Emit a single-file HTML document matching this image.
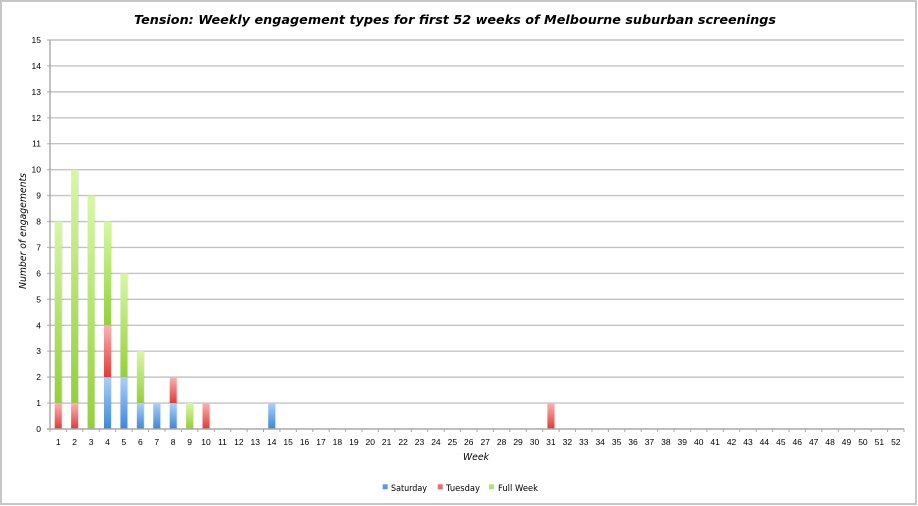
<!DOCTYPE html>
<html><head><meta charset="utf-8"><style>
html,body{margin:0;padding:0;background:#fff;}
svg{display:block;}
</style></head><body>
<svg width="918" height="506" viewBox="0 0 918 506" xmlns="http://www.w3.org/2000/svg">
<defs>
<linearGradient id="gB" x1="0" y1="0" x2="0" y2="1"><stop offset="0" stop-color="#acd0fa"/><stop offset="1" stop-color="#3d87d6"/></linearGradient>
<linearGradient id="gR" x1="0" y1="0" x2="0" y2="1"><stop offset="0" stop-color="#f9b4b2"/><stop offset="1" stop-color="#e23a38"/></linearGradient>
<linearGradient id="gG" x1="0" y1="0" x2="0" y2="1"><stop offset="0" stop-color="#d8f7a4"/><stop offset="1" stop-color="#95cf3c"/></linearGradient>
</defs>
<rect x="0" y="0" width="918" height="506" fill="#fff"/>
<rect x="1" y="1" width="915" height="503" fill="none" stroke="#c6c6c6" stroke-width="2"/>

<text x="455" y="24" text-anchor="middle" font-family="'DejaVu Sans',Verdana,sans-serif" font-weight="bold" font-style="italic" font-size="12.5" textLength="642" lengthAdjust="spacingAndGlyphs" fill="#000">Tension: Weekly engagement types for first 52 weeks of Melbourne suburban screenings</text>

<g stroke="#c4c4c4" stroke-width="1.4">
<line x1="47" y1="40" x2="904" y2="40"/>
<line x1="47" y1="65.93" x2="904" y2="65.93"/>
<line x1="47" y1="91.87" x2="904" y2="91.87"/>
<line x1="47" y1="117.8" x2="904" y2="117.8"/>
<line x1="47" y1="143.73" x2="904" y2="143.73"/>
<line x1="47" y1="169.67" x2="904" y2="169.67"/>
<line x1="47" y1="195.6" x2="904" y2="195.6"/>
<line x1="47" y1="221.53" x2="904" y2="221.53"/>
<line x1="47" y1="247.47" x2="904" y2="247.47"/>
<line x1="47" y1="273.4" x2="904" y2="273.4"/>
<line x1="47" y1="299.33" x2="904" y2="299.33"/>
<line x1="47" y1="325.27" x2="904" y2="325.27"/>
<line x1="47" y1="351.2" x2="904" y2="351.2"/>
<line x1="47" y1="377.13" x2="904" y2="377.13"/>
<line x1="47" y1="403.07" x2="904" y2="403.07"/>
</g>

<g font-family="'Liberation Sans',Tahoma,sans-serif" font-size="8.5" fill="#000" text-anchor="end">
<text x="41" y="43">15</text>
<text x="41" y="68.9">14</text>
<text x="41" y="94.9">13</text>
<text x="41" y="120.8">12</text>
<text x="41" y="146.7">11</text>
<text x="41" y="172.7">10</text>
<text x="41" y="198.6">9</text>
<text x="41" y="224.5">8</text>
<text x="41" y="250.5">7</text>
<text x="41" y="276.4">6</text>
<text x="41" y="302.3">5</text>
<text x="41" y="328.3">4</text>
<text x="41" y="354.2">3</text>
<text x="41" y="380.1">2</text>
<text x="41" y="406.1">1</text>
<text x="41" y="432">0</text>
</g>

<g fill="#000" opacity="0.08">
<rect x="55.7" y="222.5" width="7" height="207"/>
<rect x="72.1" y="170.7" width="7" height="259"/>
<rect x="88.56" y="196.6" width="7" height="233"/>
<rect x="104.98" y="222.5" width="7" height="207"/>
<rect x="121.4" y="274.4" width="7" height="155"/>
<rect x="137.83" y="352.2" width="7" height="77"/>
<rect x="154.25" y="404.07" width="7" height="25"/>
<rect x="170.67" y="378.13" width="7" height="51"/>
<rect x="187.1" y="404.07" width="7" height="25"/>
<rect x="203.52" y="404.07" width="7" height="25"/>
<rect x="269.21" y="404.07" width="7" height="25"/>
<rect x="548.41" y="404.07" width="7" height="25"/>
</g>

<rect x="54.7" y="403.07" width="7" height="25.93" fill="url(#gR)"/>
<rect x="54.7" y="221.53" width="7" height="181.54" fill="url(#gG)"/>

<rect x="71.1" y="403.07" width="7" height="25.93" fill="url(#gR)"/>
<rect x="71.1" y="169.67" width="7" height="233.4" fill="url(#gG)"/>

<rect x="87.56" y="195.6" width="7" height="233.4" fill="url(#gG)"/>

<rect x="103.98" y="377.13" width="7" height="51.87" fill="url(#gB)"/>
<rect x="103.98" y="325.27" width="7" height="51.86" fill="url(#gR)"/>
<rect x="103.98" y="221.53" width="7" height="103.74" fill="url(#gG)"/>

<rect x="120.4" y="377.13" width="7" height="51.87" fill="url(#gB)"/>
<rect x="120.4" y="273.4" width="7" height="103.73" fill="url(#gG)"/>

<rect x="136.83" y="403.07" width="7" height="25.93" fill="url(#gB)"/>
<rect x="136.83" y="351.2" width="7" height="51.87" fill="url(#gG)"/>

<rect x="153.25" y="403.07" width="7" height="25.93" fill="url(#gB)"/>

<rect x="169.67" y="403.07" width="7" height="25.93" fill="url(#gB)"/>
<rect x="169.67" y="377.13" width="7" height="25.94" fill="url(#gR)"/>

<rect x="186.1" y="403.07" width="7" height="25.93" fill="url(#gG)"/>

<rect x="202.52" y="403.07" width="7" height="25.93" fill="url(#gR)"/>

<rect x="268.21" y="403.07" width="7" height="25.93" fill="url(#gB)"/>

<rect x="547.41" y="403.07" width="7" height="25.93" fill="url(#gR)"/>

<line x1="50" y1="40" x2="50" y2="429.5" stroke="#9a9a9a" stroke-width="1.2"/>
<line x1="47" y1="429" x2="904" y2="429" stroke="#a8a8a8" stroke-width="1.4"/>
<path stroke="#a8a8a8" stroke-width="1" fill="none" d="M50 429v3M66.42 429v3M82.85 429v3M99.27 429v3M115.69 429v3M132.12 429v3M148.54 429v3M164.96 429v3M181.38 429v3M197.81 429v3M214.23 429v3M230.65 429v3M247.08 429v3M263.5 429v3M279.92 429v3M296.35 429v3M312.77 429v3M329.19 429v3M345.61 429v3M362.04 429v3M378.46 429v3M394.88 429v3M411.31 429v3M427.73 429v3M444.15 429v3M460.58 429v3M477 429v3M493.42 429v3M509.84 429v3M526.27 429v3M542.69 429v3M559.11 429v3M575.54 429v3M591.96 429v3M608.38 429v3M624.81 429v3M641.23 429v3M657.65 429v3M674.07 429v3M690.5 429v3M706.92 429v3M723.34 429v3M739.77 429v3M756.19 429v3M772.61 429v3M789.04 429v3M805.46 429v3M821.88 429v3M838.3 429v3M854.73 429v3M871.15 429v3M887.57 429v3M904 429v3"/>

<g font-family="'Liberation Sans',Tahoma,sans-serif" font-size="8.5" fill="#000" text-anchor="middle">
<text x="58.21" y="445">1</text>
<text x="74.63" y="445">2</text>
<text x="91.06" y="445">3</text>
<text x="107.48" y="445">4</text>
<text x="123.9" y="445">5</text>
<text x="140.33" y="445">6</text>
<text x="156.75" y="445">7</text>
<text x="173.17" y="445">8</text>
<text x="189.6" y="445">9</text>
<text x="206.02" y="445">10</text>
<text x="222.44" y="445">11</text>
<text x="238.87" y="445">12</text>
<text x="255.29" y="445">13</text>
<text x="271.71" y="445">14</text>
<text x="288.13" y="445">15</text>
<text x="304.56" y="445">16</text>
<text x="320.98" y="445">17</text>
<text x="337.4" y="445">18</text>
<text x="353.83" y="445">19</text>
<text x="370.25" y="445">20</text>
<text x="386.67" y="445">21</text>
<text x="403.1" y="445">22</text>
<text x="419.52" y="445">23</text>
<text x="435.94" y="445">24</text>
<text x="452.37" y="445">25</text>
<text x="468.79" y="445">26</text>
<text x="485.21" y="445">27</text>
<text x="501.64" y="445">28</text>
<text x="518.06" y="445">29</text>
<text x="534.48" y="445">30</text>
<text x="550.91" y="445">31</text>
<text x="567.33" y="445">32</text>
<text x="583.75" y="445">33</text>
<text x="600.18" y="445">34</text>
<text x="616.6" y="445">35</text>
<text x="633.02" y="445">36</text>
<text x="649.45" y="445">37</text>
<text x="665.87" y="445">38</text>
<text x="682.29" y="445">39</text>
<text x="698.72" y="445">40</text>
<text x="715.14" y="445">41</text>
<text x="731.56" y="445">42</text>
<text x="747.99" y="445">43</text>
<text x="764.41" y="445">44</text>
<text x="780.83" y="445">45</text>
<text x="797.26" y="445">46</text>
<text x="813.68" y="445">47</text>
<text x="830.1" y="445">48</text>
<text x="846.53" y="445">49</text>
<text x="862.95" y="445">50</text>
<text x="879.37" y="445">51</text>
<text x="895.8" y="445">52</text>
</g>

<text x="476" y="460" text-anchor="middle" font-family="'DejaVu Sans',Verdana,sans-serif" font-style="italic" font-size="10" textLength="26" lengthAdjust="spacingAndGlyphs" fill="#000">Week</text>

<text transform="translate(26,231) rotate(-90)" text-anchor="middle" font-family="'DejaVu Sans',Verdana,sans-serif" font-style="italic" font-size="10" textLength="116" lengthAdjust="spacingAndGlyphs" fill="#000">Number of engagements</text>

<rect x="382.7" y="484.3" width="5" height="5" fill="#5a9be4"/>
<text x="391" y="491" font-family="'DejaVu Sans',Tahoma,sans-serif" font-size="8.5" textLength="36" lengthAdjust="spacingAndGlyphs" fill="#000">Saturday</text>
<rect x="437.7" y="484.3" width="5" height="5" fill="#ee6a68"/>
<text x="446" y="491" font-family="'DejaVu Sans',Tahoma,sans-serif" font-size="8.5" textLength="34" lengthAdjust="spacingAndGlyphs" fill="#000">Tuesday</text>
<rect x="489" y="484.3" width="5" height="5" fill="#b2e270"/>
<text x="498" y="491" font-family="'DejaVu Sans',Tahoma,sans-serif" font-size="8.5" textLength="40" lengthAdjust="spacingAndGlyphs" fill="#000">Full Week</text>
</svg>
</body></html>
